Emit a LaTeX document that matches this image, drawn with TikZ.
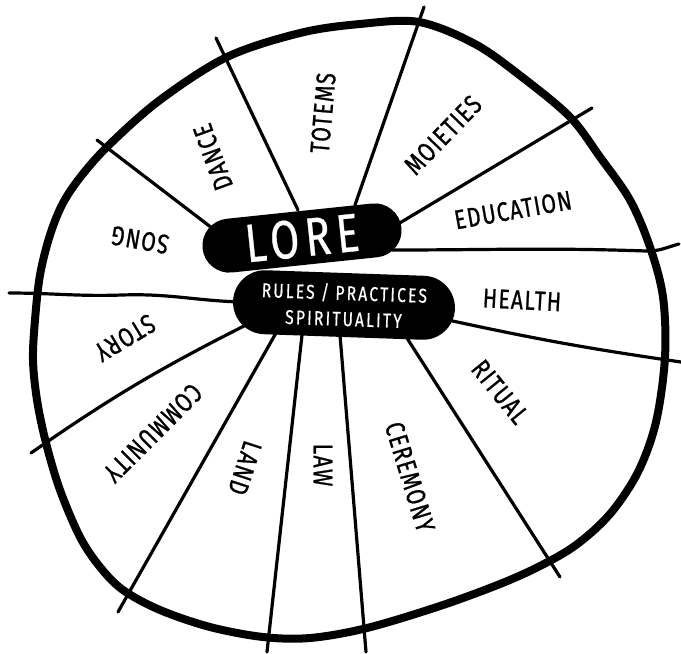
\documentclass[tikz,border=0pt]{standalone}
\usepackage{fontspec}
\newfontfamily\hand[FakeStretch=0.78,LetterSpace=5,FakeBold=0.8]{Fira Sans}
\newfontfamily\handwide[FakeStretch=0.78,LetterSpace=11,FakeBold=0.6]{Fira Sans}
\usetikzlibrary{shapes.misc}
\begin{document}
\begin{tikzpicture}[x=1pt,y=-1pt,
  spoke/.style={line width=3.2pt, line cap=round, line join=round},
  rim/.style={line width=8pt, line join=round},
  pill/.style={rounded rectangle, fill=black, inner sep=0pt, text=white},
  lbl/.style={font=\hand\fontsize{27}{27}\selectfont, inner sep=0pt}]
\useasboundingbox (0,0) rectangle (681,654);
\fill[white] (0,0) rectangle (681,654);

% spoke ends
\coordinate (i1) at (212,228);  \coordinate (o1) at (97,140);
\coordinate (i2) at (298,210);  \coordinate (o2) at (216,38);
\coordinate (i3) at (355,205);  \coordinate (o3) at (424,7);
\coordinate (i4) at (398,224);  \coordinate (o4) at (592,108);
\coordinate (i5) at (392,250);  \coordinate (o5) at (679,244);
\coordinate (i6) at (448,320);  \coordinate (o6) at (681,362);
\coordinate (i7) at (405,335);  \coordinate (o7) at (560,577);
\coordinate (i8) at (340,335);  \coordinate (o8) at (366,652);
\coordinate (i9) at (302,335);  \coordinate (o9) at (267,652);
\coordinate (i10) at (276,333); \coordinate (o10) at (118,612);
\coordinate (i11) at (246,325); \coordinate (o11) at (31,453);
\coordinate (i12) at (240,302); \coordinate (o12) at (9,293);

\draw[spoke] (i1) -- (o1);
\draw[spoke] (i2) -- (o2);
\draw[spoke] (i3) -- (o3);
\draw[spoke] (i4) -- (o4);
\draw[spoke] (i5) to[out=0,in=178] (646,251) to[out=-2,in=-165] (o5);
\draw[spoke] (i6) to[bend right=2] (o6);
\draw[spoke] (i7) -- (o7);
\draw[spoke] (i8) -- (o8);
\draw[spoke] (i9) -- (o9);
\draw[spoke] (i10) -- (o10);
\draw[spoke] (i11) to[bend right=4] (o11);
\draw[spoke] (i12) to[out=178,in=2] (122,295) to[out=182,in=0] (o12);

% outer rim
\draw[rim] plot[smooth cycle, tension=0.55] coordinates {
 (419,22) (475,44) (522,77) (570,117) (600,157) (630,200) (650,247)
 (663,297) (665,357) (656,422) (638,472) (610,514) (576,545) (540,566)
 (500,584) (440,606) (367,628) (310,638) (263,637) (210,627) (160,610)
 (123,590) (100,567) (80,537) (60,490) (46,443) (37,400) (33,360)
 (35,320) (40,275) (50,235) (63,203) (82,175) (110,144) (160,100)
 (227,57) (300,33) (360,24)};

% central pills
\node[pill, minimum width=200pt, minimum height=54pt, rotate=6,
      font=\handwide\fontsize{54}{54}\selectfont] (lore) at (302,238) {LORE};
\node[pill, minimum width=222pt, minimum height=64pt, rotate=-2, align=center,
      font=\handwide\fontsize{20}{26}\selectfont] (rules) at (344,305)
      {RULES / PRACTICES\\SPIRITUALITY};

% sector labels
\node[lbl, rotate=170]  (song)  at (140,240) {SONG};
\node[lbl, rotate=110]  (dance) at (213,157) {DANCE};
\node[lbl, rotate=85]   (totems) at (323,113) {TOTEMS};
\node[lbl, rotate=46]   (moieties) at (443,135) {MOIETIES};
\node[lbl, rotate=10]   (education) at (513,210) {EDUCATION};
\node[lbl, rotate=-3]   (health) at (522,300) {HEALTH};
\node[lbl, rotate=-51]  (ritual) at (500,392) {RITUAL};
\node[lbl, rotate=-73]  (ceremony) at (410,477) {CEREMONY};
\node[lbl, rotate=-90]  (law) at (323,465) {LAW};
\node[lbl, rotate=-108] (land) at (245,468) {LAND};
\node[lbl, rotate=-135] (community) at (153,433) {COMMUNITY};
\node[lbl, rotate=-149] (story) at (125,338) {STORY};
\end{tikzpicture}
\end{document}
